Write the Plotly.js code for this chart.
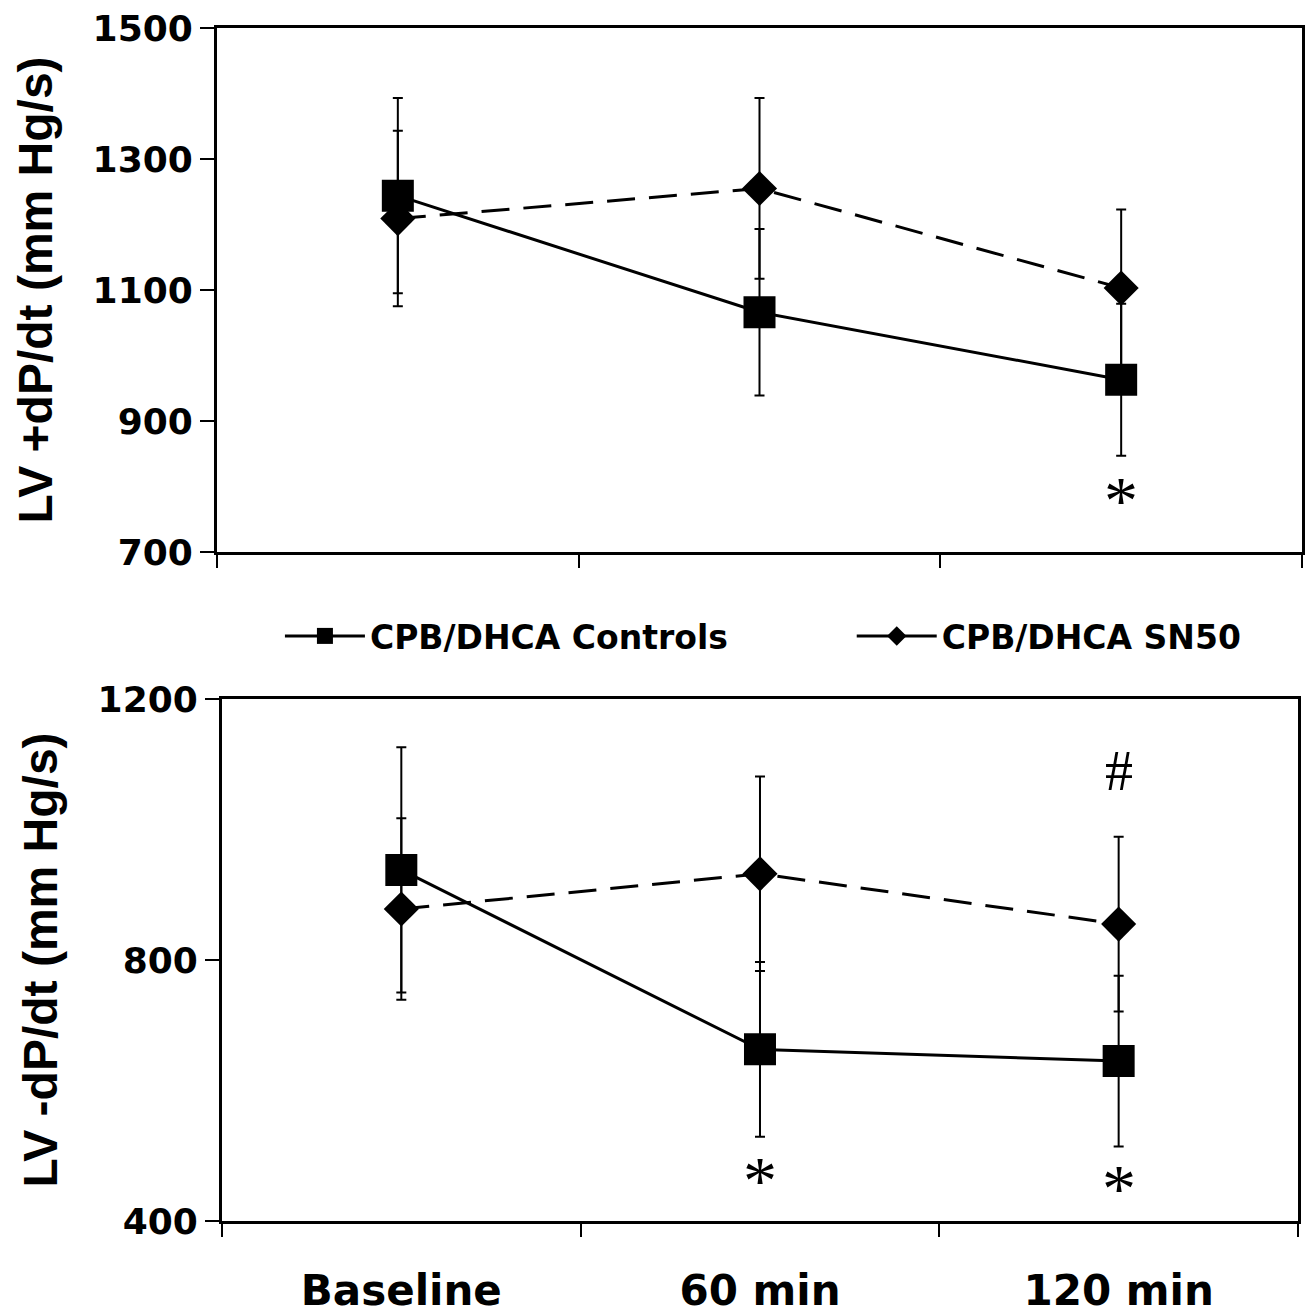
<!DOCTYPE html>
<html>
<head>
<meta charset="utf-8">
<script src="https://cdn.plot.ly/plotly-3.0.1.min.js"></script>
<style>
  html, body { margin: 0; padding: 0; background: #fff; }
  #chart { width: 1311px; height: 1316px; }
</style>
</head>
<body>
<div id="chart"></div>
<script>
// ---- Data ----
const categories = ['Baseline', '60 min', '120 min'];

// LV +dP/dt (mm Hg/s)
const controlsPos    = [1244, 1066, 963];
const controlsPosErr = [149, 127, 116];
const sn50Pos        = [1209, 1255, 1103];
const sn50PosErr     = [134, 138, 120];

// LV -dP/dt (mm Hg/s)
const controlsNeg    = [938, 663, 645];
const controlsNegErr = [188, 134, 131];
const sn50Neg        = [878, 932, 855];
const sn50NegErr     = [139, 149, 134];

// significance marks
const sigPosX    = ['120 min'];
const sigPosY    = [795];
const sigPosText = ['*'];
const sigNegX    = ['60 min', '120 min', '120 min'];
const sigNegY    = [478, 466, 1089];
const sigNegText = ['*', '*', '#'];

const seriesNames = ['CPB/DHCA Controls', 'CPB/DHCA SN50'];

// ---- Styles ----
const sansBold = { family: 'DejaVu Sans', weight: 'bold', color: '#000' };
const errStyle = (arr) => ({ type: 'data', array: arr, visible: true, color: '#000', thickness: 2, width: 5 });

function sn50Trace(y, err, xa, ya) {
  return {
    x: categories, y: y, xaxis: xa, yaxis: ya, type: 'scatter', mode: 'lines+markers',
    name: seriesNames[1], showlegend: false,
    line: { color: '#000', width: 3, dash: '28px,14px' },
    marker: { symbol: 'diamond', size: 27, color: '#000' },
    error_y: errStyle(err)
  };
}
function controlsTrace(y, err, xa, ya) {
  return {
    x: categories, y: y, xaxis: xa, yaxis: ya, type: 'scatter', mode: 'lines+markers',
    name: seriesNames[0], showlegend: false,
    line: { color: '#000', width: 3 },
    marker: { symbol: 'square', size: 32, color: '#000' },
    error_y: errStyle(err)
  };
}

const traces = [
  sn50Trace(sn50Pos, sn50PosErr, 'x', 'y'),
  controlsTrace(controlsPos, controlsPosErr, 'x', 'y'),
  sn50Trace(sn50Neg, sn50NegErr, 'x2', 'y2'),
  controlsTrace(controlsNeg, controlsNegErr, 'x2', 'y2'),
  // legend entries
  { x: [null], y: [null], xaxis: 'x', yaxis: 'y', type: 'scatter', mode: 'lines+markers', name: seriesNames[0],
    legend: 'legend', line: { color: '#000', width: 3 }, marker: { symbol: 'square', size: 16, color: '#000' } },
  { x: [null], y: [null], xaxis: 'x', yaxis: 'y', type: 'scatter', mode: 'lines+markers', name: seriesNames[1],
    legend: 'legend2', line: { color: '#000', width: 3 }, marker: { symbol: 'diamond', size: 15, color: '#000' } }
];

const xCommon = {
  type: 'category', categoryorder: 'array', categoryarray: categories,
  range: [-0.5, 2.5], tickson: 'boundaries', ticks: 'outside', ticklen: 13, tickwidth: 2, tickcolor: '#000',
  showline: true, linewidth: 3, linecolor: '#000', mirror: true, showgrid: false, zeroline: false
};
const yCommon = {
  ticks: 'outside', ticklen: 14, tickwidth: 2, tickcolor: '#000',
  showline: true, linewidth: 3, linecolor: '#000', mirror: true, showgrid: false, zeroline: false,
  tickfont: Object.assign({ size: 36 }, sansBold)
};
const yTitleFont = { family: 'Liberation Sans, Arial', weight: 'bold', size: 48, color: '#000' };

function sigAnn(xs, ys, texts, xref, yref) {
  return xs.map((x, i) => ({
    x: x, y: ys[i], xref: xref, yref: yref, text: texts[i], showarrow: false,
    font: texts[i] === '#'
      ? { family: 'Liberation Serif', size: 56, color: '#000' }
      : { family: 'Liberation Serif', size: 68, color: '#000' },
    yshift: texts[i] === '#' ? 0 : -10
  }));
}

const legendCommon = {
  orientation: 'h', xanchor: 'left', y: 0.4904, yanchor: 'middle',
  font: Object.assign({ size: 33 }, sansBold),
  itemwidth: 80, bgcolor: 'rgba(0,0,0,0)'
};

const layout = {
  width: 1311, height: 1316,
  margin: { l: 217, r: 9, t: 28, b: 95 },
  paper_bgcolor: '#fff', plot_bgcolor: '#fff',
  showlegend: true,
  legend: Object.assign({}, legendCommon, { x: 0.058 }),
  legend2: Object.assign({}, legendCommon, { x: 0.585 }),
  xaxis: Object.assign({}, xCommon, { domain: [0, 1], anchor: 'y', showticklabels: false }),
  yaxis: Object.assign({}, yCommon, {
    domain: [0.5608, 1], anchor: 'x', range: [700, 1500], tickvals: [700, 900, 1100, 1300, 1500],
    title: { text: 'LV +dP/dt (mm Hg/s)', font: yTitleFont, standoff: 25 }
  }),
  xaxis2: Object.assign({}, xCommon, {
    domain: [0.0046, 0.9963], anchor: 'y2', showticklabels: true,
    tickfont: Object.assign({ size: 42 }, sansBold), ticklabelstandoff: 31
  }),
  yaxis2: Object.assign({}, yCommon, {
    domain: [0, 0.4376], anchor: 'x2', range: [400, 1200], tickvals: [400, 800, 1200],
    title: { text: 'LV -dP/dt (mm Hg/s)', font: yTitleFont, standoff: 25 }
  }),
  annotations: [].concat(
    sigAnn(sigPosX, sigPosY, sigPosText, 'x', 'y'),
    sigAnn(sigNegX, sigNegY, sigNegText, 'x2', 'y2')
  )
};

Plotly.newPlot('chart', traces, layout, { staticPlot: true, displayModeBar: false });
</script>
</body>
</html>
